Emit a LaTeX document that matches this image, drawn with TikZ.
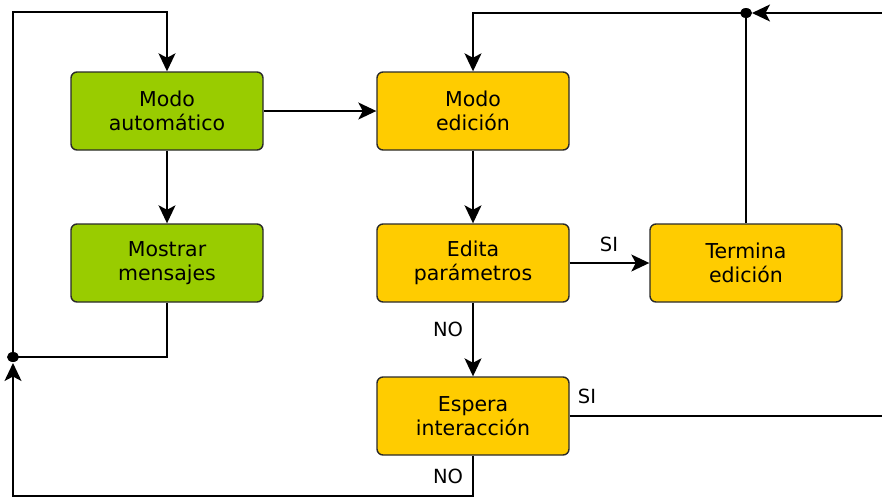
\documentclass[tikz,border=0pt]{standalone}
\usepackage{fontspec}
\setmainfont{DejaVu Sans}
\usetikzlibrary{arrows.meta,calc}
\definecolor{boxgreen}{HTML}{99CC00}
\definecolor{boxyellow}{HTML}{FFCC00}
\definecolor{boxline}{HTML}{2A2A2A}
\tikzset{
  stepbox/.style={rectangle, rounded corners=6pt, draw=boxline, line width=1.4pt,
    minimum width=192pt, minimum height=78pt, align=center, inner sep=0pt,
    font=\fontsize{20.5}{24.5}\selectfont},
  greenbox/.style={stepbox, fill=boxgreen},
  yellowbox/.style={stepbox, fill=boxyellow},
  conn/.style={line width=1.5pt, draw=black},
  arr/.style={conn, -{Stealth[length=18pt,width=17pt,inset=4.5pt]}},
  lbl/.style={font=\fontsize{19.5}{22}\selectfont, inner sep=0pt},
  junction/.style={fill=black}
}
\begin{document}
\begin{tikzpicture}[x=1pt,y=-1pt]
\useasboundingbox (0,0) rectangle (882,498);
\node[greenbox] (ma) at (167,111) {Modo\\automático};
\node[greenbox] (mm) at (167,263) {Mostrar\\mensajes};
\node[yellowbox] (me) at (473,111) {Modo\\edición};
\node[yellowbox] (ep) at (473,263) {Edita\\parámetros};
\node[yellowbox] (te) at (746,263) {Termina\\edición};
\node[yellowbox] (es) at (473,416) {Espera\\interacción};

\coordinate (j1) at (13,357);
\coordinate (j2) at (746,13);
\coordinate (tl) at (13,12);
\coordinate (bl) at (13,496);
\coordinate (rt) at (885,13);
\coordinate (rb) at (885,416);

\draw[arr] (ma) -- (me);
\draw[arr] (ma) -- (mm);
\draw[arr] (me) -- (ep);
\draw[arr] (ep) -- (te);
\draw[arr] (ep) -- (es);
\draw[conn] (mm.south) |- (j1);
\draw[arr] (j1) -- (tl) -| (ma.north);
\draw[arr, shorten >=6pt] (es.south) |- (bl) -- (j1);
\draw[conn] (te.north) -- (j2);
\draw[arr, shorten >=6pt] (es.east) -- (rb) -- (rt) -- (j2);
\draw[arr] (j2) -| (me.north);
\fill[junction] (j1) ellipse (6pt and 5pt);
\fill[junction] (j2) ellipse (6pt and 5pt);

\node[lbl] (si1) at (609,244) {SI};
\node[lbl] (no1) at (448,329) {NO};
\node[lbl] (si2) at (587,396) {SI};
\node[lbl] (no2) at (448,476) {NO};
\end{tikzpicture}
\end{document}
